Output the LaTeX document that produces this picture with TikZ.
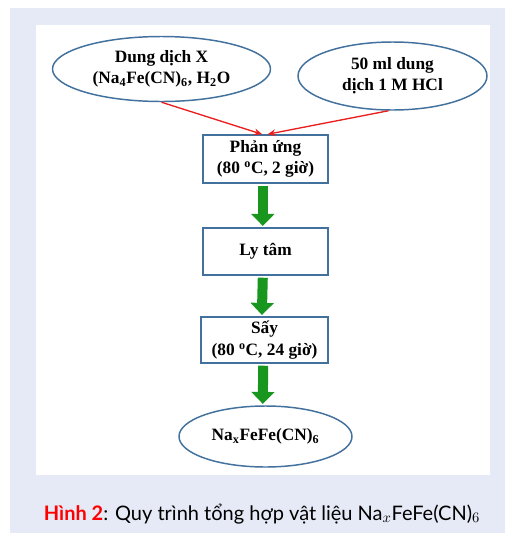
\documentclass[tikz,border=0pt]{standalone}
\usepackage{fontspec}
\setmainfont{Liberation Serif}
\newfontfamily\capfont{Lato}
\usetikzlibrary{arrows.meta,shapes.geometric}

\definecolor{panelbg}{RGB}{230,234,246}
\definecolor{edgeblue}{RGB}{65,113,156}
\definecolor{flowgreen}{RGB}{24,150,30}
\definecolor{feedred}{RGB}{235,30,30}
\definecolor{capred}{RGB}{255,0,0}

\tikzset{
  lbl/.style={font=\fontsize{13}{16}\selectfont\bfseries, align=center, inner sep=0pt},
  oval/.style={lbl, ellipse, draw=edgeblue, line width=1.1pt, fill=white},
  stepbox/.style={lbl, rectangle, draw=edgeblue, line width=1.1pt, fill=white},
  feed/.style={draw=feedred, line width=1pt, -{Stealth[length=6pt,width=5pt]}},
  flow/.style={draw=flowgreen, line width=7.5pt, -{Triangle[length=9pt,width=17pt]}, shorten >=1pt, shorten <=1.5pt},
}

\begin{document}
\begin{tikzpicture}[x=0.75pt, y=-0.75pt]
  % page frame and panels
  \useasboundingbox (0,0) rectangle (505,533);
  \fill[panelbg] (10,8) rectangle (505,533);
  \fill[white] (36,25) rectangle (490,475);

  % inputs
  \node[oval, minimum width=163.5pt, minimum height=48.75pt] (solx) at (161.5,69)
    {Dung dịch X\\(Na\textsubscript{4}Fe(CN)\textsubscript{6}, H\textsubscript{2}O};
  \node[oval, minimum width=141.75pt, minimum height=51pt] (hcl) at (392.5,76)
    {50 ml dung\\dịch 1 M HCl};

  % process steps
  \node[stepbox, minimum width=93.75pt, minimum height=36pt] (react) at (265.5,159)
    {Phản ứng\\(80 \textsuperscript{o}C, 2 giờ)};
  \node[stepbox, minimum width=93.75pt, minimum height=35.25pt] (centri) at (265.5,251.5)
    {Ly tâm};
  \node[stepbox, minimum width=95.25pt, minimum height=34.5pt] (dry) at (264.5,340)
    {Sấy\\(80 \textsuperscript{o}C, 24 giờ)};

  % product
  \node[oval, minimum width=129.75pt, minimum height=45.75pt] (prod) at (265.5,436.5)
    {Na\textsubscript{x}FeFe(CN)\textsubscript{6}};

  % feed lines
  \draw[feed] (solx.south) -- ([xshift=-2.5pt]react.north);
  \draw[feed] ([xshift=-3pt]hcl.south) -- ([xshift=1.5pt]react.north);

  % flow arrows
  \draw[flow] ([xshift=-2pt]react.south) -- ([xshift=-2pt]centri.north);
  \draw[flow] ([xshift=-2pt]centri.south) -- ([xshift=-2pt]dry.north);
  \draw[flow] ([xshift=-1pt]dry.south) -- ([xshift=-2pt]prod.north);

  % caption
  \node[anchor=base, inner sep=0pt, font=\capfont\fontsize{15}{18}\selectfont] (cap) at (262,520)
    {\textcolor{capred}{\bfseries Hình 2}: Quy trình tổng hợp vật liệu Na$_x$FeFe(CN)$_6$};
\end{tikzpicture}
\end{document}
